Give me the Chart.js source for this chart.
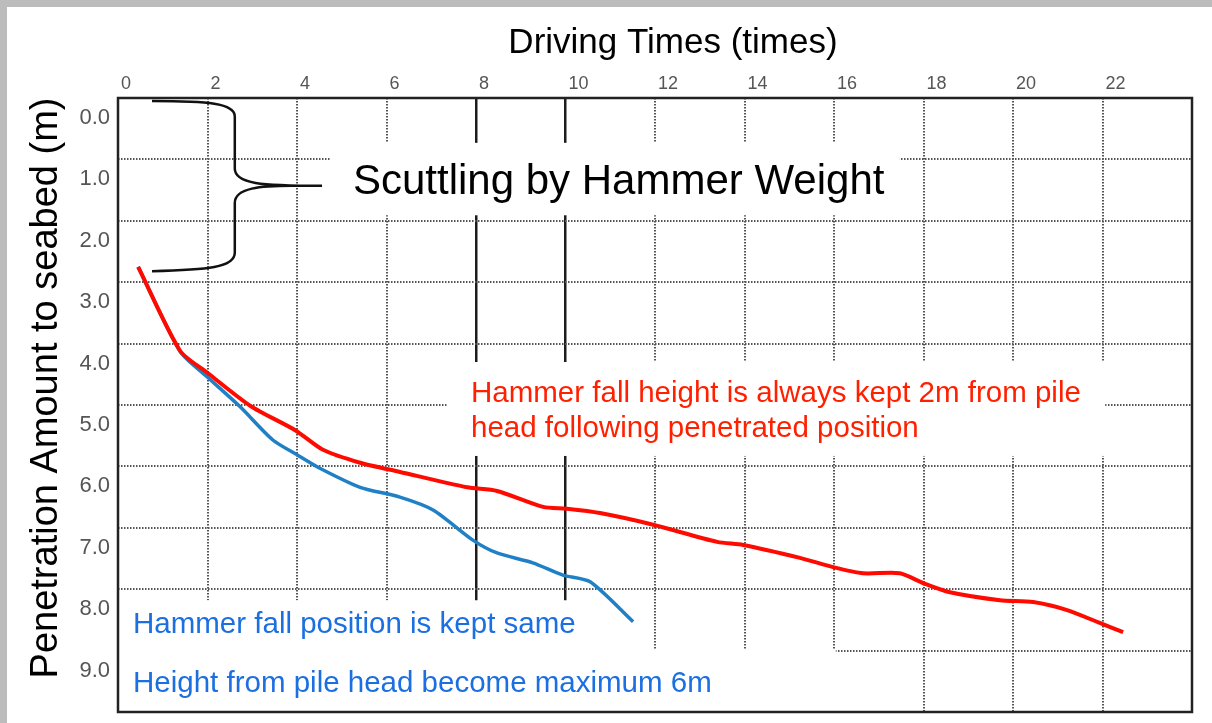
<!DOCTYPE html>
<html><head><meta charset="utf-8">
<script src="https://cdn.jsdelivr.net/npm/chart.js@4.4.0/dist/chart.umd.min.js"></script>
<style>html,body{margin:0;padding:0;background:#fff;}canvas{display:block;}</style>
</head><body>
<canvas id="c" width="1212" height="723"></canvas>
<script>
// ---- data ----
const xTickValues = [0, 2, 4, 6, 8, 10, 12, 14, 16, 18, 20, 22, 24];
const xTickLabels = ['0', '2', '4', '6', '8', '10', '12', '14', '16', '18', '20', '22', ''];
const yTickValues = [0, 1, 2, 3, 4, 5, 6, 7, 8, 9, 10];
const yTickLabels = ['0.0', '1.0', '2.0', '3.0', '4.0', '5.0', '6.0', '7.0', '8.0', '9.0', ''];
const solidTimeLines = [8, 10];

const redTimes = [0.45, 1.39, 1.99, 2.97, 3.96, 4.58, 5.41, 6.30, 7.80, 8.47, 9.50, 10.03, 10.77, 11.96, 13.39, 13.97, 15.24, 15.98, 16.65, 17.47, 17.99, 18.59, 19.71, 20.45, 21.21, 21.94, 22.46];
const redDepth = [2.75, 4.12, 4.47, 5.02, 5.41, 5.73, 5.94, 6.09, 6.34, 6.40, 6.66, 6.69, 6.76, 6.95, 7.23, 7.28, 7.49, 7.64, 7.74, 7.74, 7.90, 8.05, 8.18, 8.21, 8.34, 8.55, 8.70];
const blueTimes = [0.45, 1.39, 1.99, 2.73, 3.46, 4.00, 4.51, 5.41, 6.30, 7.04, 7.93, 8.47, 9.27, 9.94, 10.55, 11.51];
const blueDepth = [2.75, 4.13, 4.54, 5.03, 5.57, 5.81, 6.03, 6.34, 6.50, 6.71, 7.20, 7.41, 7.57, 7.77, 7.88, 8.53];

const titleX = 'Driving Times (times)';
const titleY = 'Penetration Amount to seabed (m)';
const noteScuttle = 'Scuttling by Hammer Weight';
const noteRed = ['Hammer fall height is always kept 2m from pile', 'head following penetrated position'];
const noteBlue = ['Hammer fall position is kept same', 'Height from pile head become maximum 6m'];

const RED = '#ff0a00', BLUE = '#2080c6', BLUE_TXT = '#1b6fe0', RED_TXT = '#ff2000';
const FONT = "'Liberation Sans', Arial, sans-serif";

const toPts = (xs, ys) => xs.map((x, i) => ({x, y: ys[i]}));

const overlay = {
  id: 'overlay',
  beforeDraw(chart) {
    const {ctx, width, height} = chart;
    ctx.save();
    ctx.fillStyle = '#fff';
    ctx.fillRect(0, 0, width, height);
    ctx.fillStyle = '#bcbcbc';
    ctx.fillRect(0, 0, width, 7);
    ctx.fillRect(0, 0, 7, height);
    ctx.restore();
  },
  beforeDatasetsDraw(chart) {
    const {ctx, scales: {x, y}} = chart;
    const masks = [[4.74, 0.73, 17.47, 1.91], [7.35, 4.30, 22.06, 5.83], [0, 8.18, 10.48, 10], [10.48, 8.99, 16.04, 10]];
    ctx.save();
    ctx.fillStyle = '#fff';
    masks.forEach(([x0, y0, x1, y1]) => {
      const px0 = x.getPixelForValue(x0), px1 = x.getPixelForValue(x1);
      const py0 = y.getPixelForValue(y0), py1 = y.getPixelForValue(y1);
      ctx.fillRect(px0, py0, px1 - px0, py1 - py0);
    });
    ctx.restore();
  },
  afterDatasetsDraw(chart) {
    const {ctx, chartArea: a, scales: {x, y}} = chart;
    const P = (vx, vy) => [x.getPixelForValue(vx), y.getPixelForValue(vy)];
    ctx.save();
    // bracket
    ctx.strokeStyle = '#111';
    ctx.lineWidth = 2.5;
    ctx.beginPath();
    ctx.moveTo(...P(0.76, 0.05));
    ctx.bezierCurveTo(...P(2.0, 0.05), ...P(2.61, 0.08), ...P(2.61, 0.30));
    ctx.lineTo(...P(2.61, 1.15));
    ctx.bezierCurveTo(...P(2.61, 1.40), ...P(3.2, 1.43), ...P(4.56, 1.43));
    ctx.moveTo(...P(3.9, 1.43));
    ctx.bezierCurveTo(...P(3.2, 1.43), ...P(2.61, 1.46), ...P(2.61, 1.71));
    ctx.lineTo(...P(2.61, 2.52));
    ctx.bezierCurveTo(...P(2.61, 2.76), ...P(2.0, 2.80), ...P(0.76, 2.82));
    ctx.stroke();
    // frame
    ctx.strokeStyle = '#222';
    ctx.lineWidth = 2.5;
    ctx.strokeRect(a.left, a.top, a.right - a.left, a.bottom - a.top);
    ctx.restore();
  },
  afterDraw(chart) {
    const {ctx} = chart;
    ctx.save();
    ctx.textBaseline = 'alphabetic';
    ctx.fillStyle = '#000';
    ctx.textAlign = 'center';
    ctx.font = '35px ' + FONT;
    ctx.fillText(titleX, 673, 53);
    ctx.save();
    ctx.translate(57, 388);
    ctx.rotate(-Math.PI / 2);
    ctx.font = '38px ' + FONT;
    ctx.fillText(titleY, 0, 0);
    ctx.restore();
    ctx.textAlign = 'left';
    ctx.font = '42px ' + FONT;
    ctx.fillText(noteScuttle, 353, 194);
    ctx.font = '29.5px ' + FONT;
    ctx.fillStyle = RED_TXT;
    ctx.fillText(noteRed[0], 471, 402);
    ctx.fillText(noteRed[1], 471, 437);
    ctx.fillStyle = BLUE_TXT;
    ctx.fillText(noteBlue[0], 133, 633);
    ctx.fillText(noteBlue[1], 133, 692);
    ctx.restore();
  }
};

const isSolid = (ctx) => ctx.tick && solidTimeLines.includes(ctx.tick.value);

new Chart(document.getElementById('c'), {
  type: 'line',
  data: {
    datasets: [
      {label: 'Hammer fall height kept 2m', data: toPts(redTimes, redDepth), borderColor: RED, borderWidth: 4, pointRadius: 0, tension: 0.25, fill: false},
      {label: 'Hammer fall position kept same', data: toPts(blueTimes, blueDepth), borderColor: BLUE, borderWidth: 3.5, pointRadius: 0, tension: 0.25, fill: false}
    ]
  },
  options: {
    responsive: false,
    animation: false,
    devicePixelRatio: 1,
    layout: {padding: {left: 0, top: 0, right: 20, bottom: 11}},
    plugins: {legend: {display: false}, tooltip: {enabled: false}},
    scales: {
      x: {
        type: 'linear', position: 'top', min: 0, max: 24,
        afterBuildTicks: (s) => { s.ticks = xTickValues.map(v => ({value: v})); },
        afterFit: (s) => { s.height = 98; s.paddingLeft = 0; s.paddingRight = 0; },
        ticks: {
          callback: (v, i) => xTickLabels[i] ?? '',
          align: 'start', labelOffset: 3, padding: 3,
          color: '#555', font: {family: FONT, size: 18}, autoSkip: false, maxRotation: 0
        },
        grid: {
          drawTicks: false,
          color: (c) => isSolid(c) ? '#1c1c1c' : '#555',
          lineWidth: (c) => isSolid(c) ? 2.5 : 2
        },
        border: {display: false, dash: (c) => isSolid(c) ? [] : [1.5, 1.5]}
      },
      y: {
        type: 'linear', position: 'left', min: 0, max: 10, reverse: true,
        afterBuildTicks: (s) => { s.ticks = yTickValues.map(v => ({value: v})); },
        afterFit: (s) => { s.width = 118; s.paddingTop = 0; s.paddingBottom = 0; },
        ticks: {
          callback: (v, i) => yTickLabels[i] ?? '',
          labelOffset: 20, padding: 8,
          color: '#555', font: {family: FONT, size: 22}, autoSkip: false
        },
        grid: {drawTicks: false, color: '#555', lineWidth: 2},
        border: {display: false, dash: [1.5, 1.5]}
      }
    }
  },
  plugins: [overlay]
});
</script>
</body></html>
